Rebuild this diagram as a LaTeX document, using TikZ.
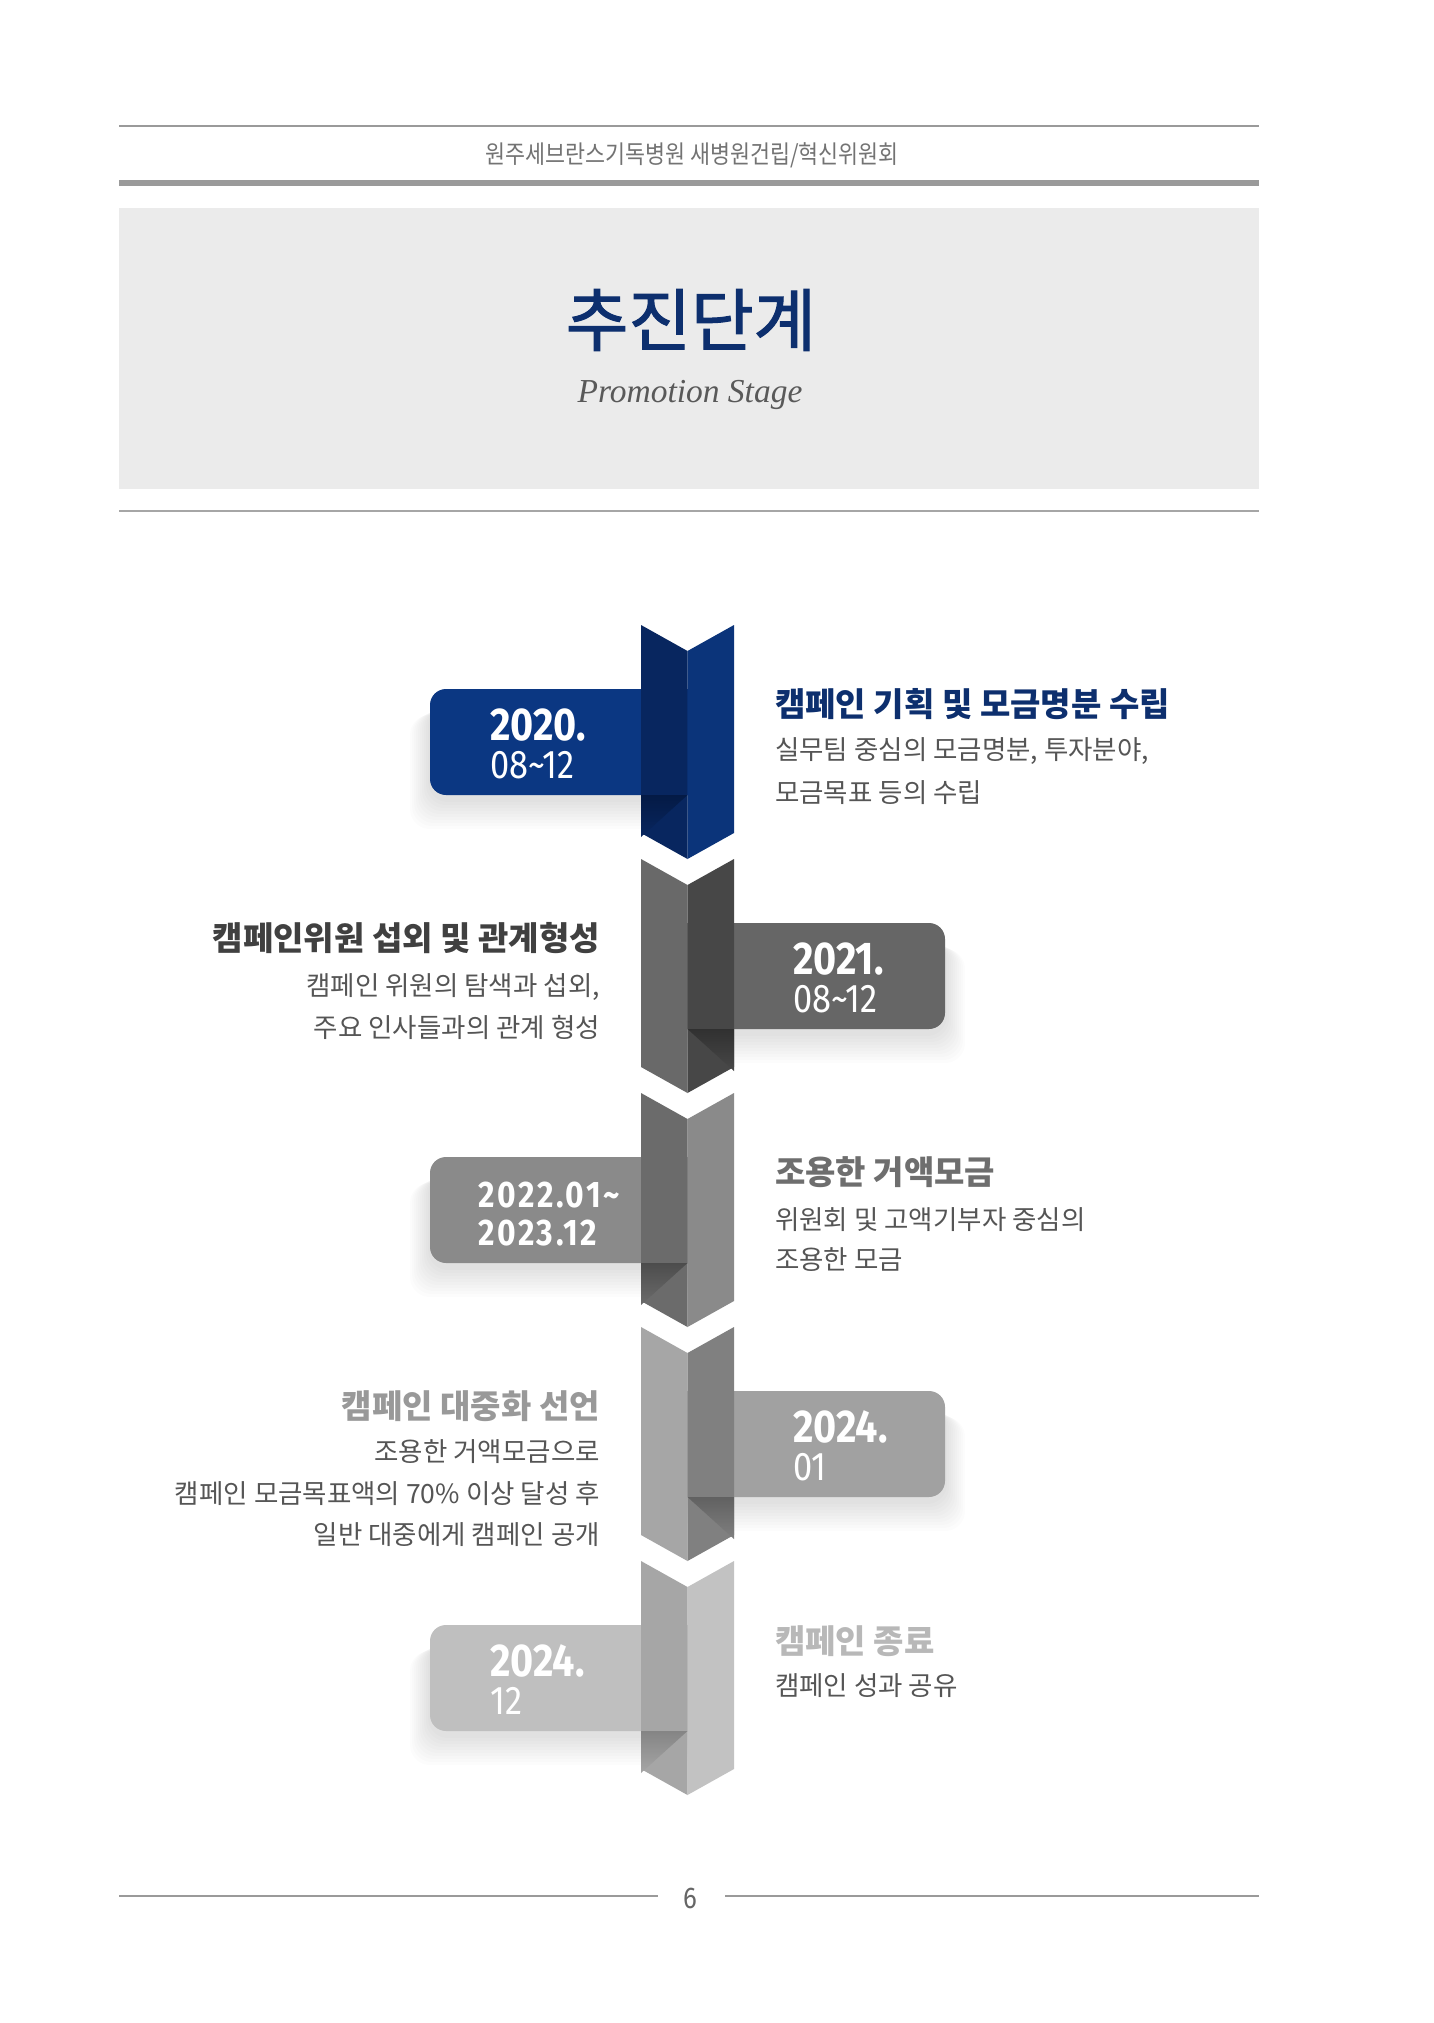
\documentclass[tikz,border=0pt]{standalone}
\usepackage{fontspec}
\setmainfont{Noto Sans CJK KR}
\newfontfamily\krnarrow[FakeStretch=0.87]{Noto Sans CJK KR}
\newfontfamily\krmed[FakeBold=1.6]{Noto Sans CJK KR}
\newfontfamily\numfont[FakeStretch=0.86]{Fira Sans}
\newfontfamily\numwide[FakeStretch=0.86, LetterSpace=7]{Fira Sans}
\newfontfamily\serifit{Liberation Serif}
\usetikzlibrary{calc}

\definecolor{navy}{HTML}{0B3782}
\definecolor{navyL}{HTML}{08265F}
\definecolor{navyR}{HTML}{0B347A}
\definecolor{navyF}{HTML}{041A45}
\definecolor{navyT}{HTML}{0D2F6E}
\definecolor{rulegray}{HTML}{9A9A9A}
\definecolor{panelgray}{HTML}{EBEBEB}
\definecolor{bodygray}{HTML}{555555}

\begin{document}
\begin{tikzpicture}[x=1pt, y=-1pt]
  \tikzset{
    datebig/.style={anchor=base west, inner sep=0pt, text=white, font=\numfont\bfseries\fontsize{46}{46}\selectfont},
    datesmall/.style={anchor=base west, inner sep=0pt, text=white, font=\numfont\fontsize{40}{40}\selectfont},
    stagehead/.style={inner sep=0pt, font=\bfseries\fontsize{33}{33}\selectfont},
    stagebody/.style={inner sep=0pt, text=bodygray, font=\fontsize{26.5}{26.5}\selectfont},
    boxshadow/.style={black, opacity=0.013, rounded corners=20}
  }
  \useasboundingbox (0,0) rectangle (1433,2023);
  \fill[white] (0,0) rectangle (1433,2023);

  % header
  \draw[rulegray, line width=2pt] (119,126) -- (1259,126);
  \node[text=black!55, font=\krnarrow\fontsize{25}{25}\selectfont] (hdr) at (692,155) {원주세브란스기독병원 새병원건립/혁신위원회};
  \draw[rulegray, line width=6pt] (119,183) -- (1259,183);
  \fill[panelgray] (119,208) rectangle (1259,489);
  \node[text=navyT, font=\krmed\fontsize{68}{68}\selectfont] (ttl) at (691,320) {추진단계};
  \node[text=black!65, font=\serifit\itshape\fontsize{33.5}{33.5}\selectfont] (sub) at (690,395) {Promotion Stage};
  \draw[black!35, line width=2pt] (119,511) -- (1259,511);

  % 2020
  \begin{scope}[shift={(0,625)}]
    \foreach \k in {1,...,10}
      \fill[boxshadow] (430-\k*2,80+\k) rectangle (700,174+\k*3);
    \fill[navy, rounded corners=16] (690,64) -- (430,64) -- (430,170) -- (690,170);
    \fill[navyL] (641,0) -- (687.5,26) -- (687.5,234) -- (641,208) -- cycle;
    \fill[navyR] (687.5,26) -- (734,0) -- (734,208) -- (687.5,234) -- cycle;
    \shade[top color=navyF, bottom color=navyL] (641,170) -- (687.5,170) -- (641,212) -- cycle;
    \node[datebig] (d1a) at (490,115) {2020.};
    \node[datesmall] (d1b) at (490,153) {08\textasciitilde12};
    \node[stagehead, text=navyT, anchor=west] (h1) at (775,79) {캠페인 기획 및 모금명분 수립};
    \node[stagebody, anchor=west] (b1a) at (775,126) {실무팀 중심의 모금명분, 투자분야,};
    \node[stagebody, anchor=west] (b1b) at (775,168) {모금목표 등의 수립};
  \end{scope}

  % 2021
  \begin{scope}[shift={(0,859)}]
    \foreach \k in {1,...,10}
      \fill[boxshadow] (680,80+\k) rectangle (945+\k*2,174+\k*3);
    \fill[black!60, rounded corners=16] (680,64) -- (945,64) -- (945,170) -- (680,170);
    \fill[black!59] (641,0) -- (687.5,26) -- (687.5,234) -- (641,208) -- cycle;
    \fill[black!72] (687.5,26) -- (734,0) -- (734,208) -- (687.5,234) -- cycle;
    \shade[top color=black!81, bottom color=black!72] (687.5,170) -- (734,170) -- (734,212) -- cycle;
    \node[datebig] (d2a) at (793,115) {2021.};
    \node[datesmall] (d2b) at (793,153) {08\textasciitilde12};
    \node[stagehead, text=black!75, anchor=east] (h2) at (600,79) {캠페인위원 섭외 및 관계형성};
    \node[stagebody, anchor=east] (b2a) at (600,128) {캠페인 위원의 탐색과 섭외,};
    \node[stagebody, anchor=east] (b2b) at (600,168) {주요 인사들과의 관계 형성};
  \end{scope}

  % 2022
  \begin{scope}[shift={(0,1093)}]
    \foreach \k in {1,...,10}
      \fill[boxshadow] (430-\k*2,80+\k) rectangle (700,174+\k*3);
    \fill[black!46, rounded corners=16] (690,64) -- (430,64) -- (430,170) -- (690,170);
    \fill[black!58] (641,0) -- (687.5,26) -- (687.5,234) -- (641,208) -- cycle;
    \fill[black!46] (687.5,26) -- (734,0) -- (734,208) -- (687.5,234) -- cycle;
    \shade[top color=black!70, bottom color=black!58] (641,170) -- (687.5,170) -- (641,212) -- cycle;
    \node[datebig, font=\numwide\bfseries\fontsize{37}{37}\selectfont] (d3a) at (478,114) {2022.01\textasciitilde};
    \node[datebig, font=\numwide\bfseries\fontsize{37}{37}\selectfont] (d3b) at (478,152) {2023.12};
    \node[stagehead, text=black!57, anchor=west] (h3) at (775,79) {조용한 거액모금};
    \node[stagebody, anchor=west] (b3a) at (775,127) {위원회 및 고액기부자 중심의};
    \node[stagebody, anchor=west] (b3b) at (775,167) {조용한 모금};
  \end{scope}

  % 2024.01
  \begin{scope}[shift={(0,1327)}]
    \foreach \k in {1,...,10}
      \fill[boxshadow] (680,80+\k) rectangle (945+\k*2,174+\k*3);
    \fill[black!37, rounded corners=16] (680,64) -- (945,64) -- (945,170) -- (680,170);
    \fill[black!35] (641,0) -- (687.5,26) -- (687.5,234) -- (641,208) -- cycle;
    \fill[black!50] (687.5,26) -- (734,0) -- (734,208) -- (687.5,234) -- cycle;
    \shade[top color=black!62, bottom color=black!50] (687.5,170) -- (734,170) -- (734,212) -- cycle;
    \node[datebig] (d4a) at (793,115) {2024.};
    \node[datesmall] (d4b) at (793,153) {01};
    \node[stagehead, text=black!40, anchor=east] (h4) at (600,79) {캠페인 대중화 선언};
    \node[stagebody, anchor=east] (b4a) at (600,125) {조용한 거액모금으로};
    \node[stagebody, anchor=east] (b4b) at (600,167) {캠페인 모금목표액의 70\% 이상 달성 후};
    \node[stagebody, anchor=east] (b4c) at (600,208) {일반 대중에게 캠페인 공개};
  \end{scope}

  % 2024.12
  \begin{scope}[shift={(0,1561)}]
    \foreach \k in {1,...,10}
      \fill[boxshadow] (430-\k*2,80+\k) rectangle (700,174+\k*3);
    \fill[black!25, rounded corners=16] (690,64) -- (430,64) -- (430,170) -- (690,170);
    \fill[black!35] (641,0) -- (687.5,26) -- (687.5,234) -- (641,208) -- cycle;
    \fill[black!24] (687.5,26) -- (734,0) -- (734,208) -- (687.5,234) -- cycle;
    \shade[top color=black!48, bottom color=black!35] (641,170) -- (687.5,170) -- (641,212) -- cycle;
    \node[datebig] (d5a) at (490,115) {2024.};
    \node[datesmall] (d5b) at (490,153) {12};
    \node[stagehead, text=black!28, anchor=west] (h5) at (775,80) {캠페인 종료};
    \node[stagebody, anchor=west] (b5a) at (775,125) {캠페인 성과 공유};
  \end{scope}

  % footer
  \draw[rulegray, line width=2pt] (119,1896) -- (658,1896);
  \draw[rulegray, line width=2pt] (725,1896) -- (1259,1896);
  \node[text=black!60, font=\numfont\fontsize{30}{30}\selectfont] (pg) at (690,1898) {6};
\end{tikzpicture}
\end{document}
